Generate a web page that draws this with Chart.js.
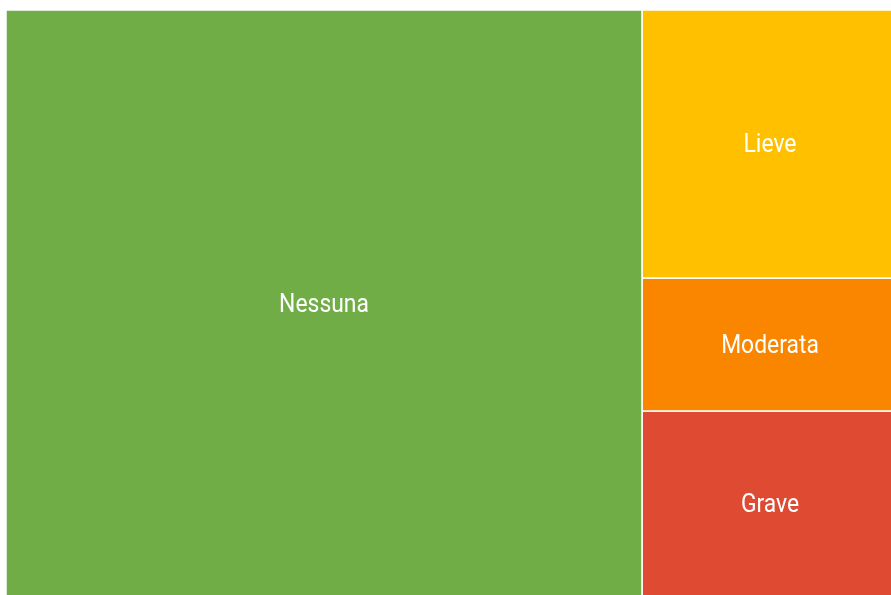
<!DOCTYPE html>
<html>
<head>
<meta charset="utf-8">
<script src="https://cdn.jsdelivr.net/npm/chart.js@4"></script>
<style>
  html, body { margin: 0; padding: 0; background: #fff; overflow: hidden; }
  #wrap { width: 898px; height: 597px; }
</style>
</head>
<body>
<div id="wrap"><canvas id="treeChart"></canvas></div>
<script>
const categories = ['Nessuna', 'Lieve', 'Moderata', 'Grave'];
const values = [71.3, 13.1, 6.5, 9.1];
const colors = ['#70ad47', '#ffc000', '#fa8600', '#df4a32'];

// simple slice layout: first item takes a full-height column, the rest stack in the remaining column
function layout(vals) {
    const total = vals.reduce((a, b) => a + b, 0);
    const w0 = vals[0] / total * 100;
    const rects = [{ x0: 0, x1: w0, y0: 0, y1: 100 }];
    const rest = total - vals[0];
    let y = 0;
    for (let i = 1; i < vals.length; i++) {
        const h = vals[i] / rest * 100;
        rects.push({ x0: w0, x1: 100, y0: y, y1: y + h });
        y += h;
    }
    return rects;
}

const rects = layout(values);

const datasets = rects.map((r, i) => ({
    label: categories[i],
    data: [
        { x: r.x0, y: r.y0 }, { x: r.x1, y: r.y0 },
        { x: r.x1, y: r.y1 }, { x: r.x0, y: r.y1 }, { x: r.x0, y: r.y0 }
    ],
    showLine: true,
    fill: 'shape',
    backgroundColor: colors[i],
    borderColor: '#ffffff',
    borderWidth: 1.5,
    pointRadius: 0,
    tension: 0
}));

const labelPlugin = {
    id: 'rectLabels',
    afterDatasetsDraw(chart) {
        const c = chart.ctx;
        const xs = chart.scales.x, ys = chart.scales.y;
        c.save();
        c.fillStyle = '#ffffff';
        c.font = '26px Roboto';
        c.textAlign = 'center';
        c.textBaseline = 'middle';
        rects.forEach((r, i) => {
            const cx = xs.getPixelForValue((r.x0 + r.x1) / 2);
            const cy = ys.getPixelForValue((r.y0 + r.y1) / 2);
            c.save();
            c.translate(cx, cy + 2);
            c.scale(0.88, 1);
            c.fillText(categories[i], 0, 0);
            c.restore();
        });
        c.restore();
    }
};

new Chart(document.getElementById('treeChart').getContext('2d'), {
    type: 'scatter',
    data: { datasets },
    options: {
        responsive: true,
        maintainAspectRatio: false,
        animation: false,
        layout: { padding: { left: 6, top: 10, right: 0, bottom: 0 } },
        scales: {
            x: { type: 'linear', min: 0, max: 100, display: false },
            y: { type: 'linear', min: 0, max: 100, reverse: true, display: false }
        },
        plugins: {
            legend: { display: false },
            tooltip: { enabled: false }
        }
    },
    plugins: [labelPlugin]
});
</script>
</body>
</html>
